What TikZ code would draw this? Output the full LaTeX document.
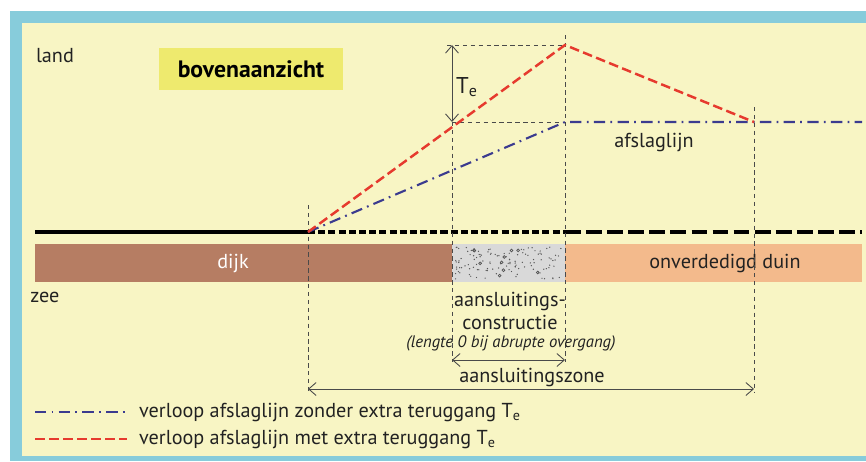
\documentclass[tikz,border=0pt]{standalone}
\usepackage{fontspec}
\setmainfont{PT Sans}
\usetikzlibrary{calc,arrows.meta}

\definecolor{paper}{HTML}{F8F5C4}
\definecolor{frameblue}{HTML}{87CCDB}
\definecolor{hilite}{HTML}{EEEA6E}
\definecolor{dijkbrown}{HTML}{B67D63}
\definecolor{duinorange}{HTML}{F3BA8C}
\definecolor{constrgray}{HTML}{D9D9D9}
\definecolor{dotgray}{HTML}{555555}
\definecolor{guidegray}{HTML}{4A4A4A}
\definecolor{afslagblue}{HTML}{3B3B8F}
\definecolor{afslagred}{HTML}{E63A2E}
\definecolor{inkgray}{HTML}{222222}

\begin{document}
\begin{tikzpicture}[x=0.02cm,y=-0.02cm,font=\fontsize{11.5}{13.5}\selectfont,text=inkgray]
  \useasboundingbox (0,0) rectangle (866,461);
 % frame
  \fill[frameblue] (10,11) rectangle (866,461);
  \fill[paper] (22,23) rectangle (866,456);

  \tikzset{guide/.style={draw=guidegray,line width=0.5pt,dash pattern=on 2.5pt off 2pt},
           dimarrow/.style={{Straight Barb[length=1.5mm,width=2.6mm]}-{Straight Barb[length=1.5mm,width=2.6mm]},
                            draw=guidegray,line width=0.5pt},
           redpath/.style={draw=afslagred,line width=1.4pt,dash pattern=on 5.5pt off 2.5pt},
           bluepath/.style={draw=afslagblue,line width=1.2pt,dash pattern=on 6.5pt off 3pt on 1pt off 3pt},
           coast/.style={draw=black,line width=2.2pt}}

 % key points
  \coordinate (start) at (308,232);
  \coordinate (peak) at (565,45);
  \coordinate (redend) at (754,122);
  \coordinate (knik) at (565,122);
  \coordinate (blueend) at (862,122);
  \coordinate (tetop) at (452,45);
  \coordinate (tebot) at (452,122);

 % texts top left
  \node (land) at (55,56) {land};
  \node[fill=hilite,minimum width=3.68cm,minimum height=0.84cm,
        font=\fontsize{13.5}{15}\selectfont\bfseries,text=black] (title) at (251,69) {bovenaanzicht};

 % band: dijk, constructie, duin
  \fill[dijkbrown] (35,244) rectangle (452,282);
  \fill[constrgray] (452,244) rectangle (565,282);
  \fill[duinorange] (565,244) rectangle (862,282);
  \pgfmathsetseed{11}
  \foreach \i in {1,...,120}
    \fill[dotgray] ({455+107*rnd},{247+32*rnd}) circle (0.7);
  \foreach \i in {1,...,10}
    \draw[dotgray,line width=0.4pt] ({458+100*rnd},{250+26*rnd}) circle (1.4);
  \node[text=white] (dijk) at (233,263) {dijk};
  \node (duin) at (725,263) {onverdedigd duin};
  \node (zee) at (45,297) {zee};

 % coast line
  \draw[coast] (35,232) -- (start);
  \draw[coast,dash pattern=on 4pt off 1.8pt] (start) -- (565,232);
  \draw[coast,dash pattern=on 9pt off 3pt] (565,232) -- (862,232);

 % guide lines
  \draw[guide] (308,205) -- (308,392);
  \draw[guide] (565,35) -- (565,362);
  \draw[guide] (tebot) -- (452,362);
  \draw[guide] (754,107) -- (754,392);
  \draw[guide] (447,45) -- (peak);
  \draw[guide] (tebot) -- (knik);

 % afslaglijn
  \draw[bluepath] (start) -- (knik) -- (blueend);
  \draw[redpath] (start) -- (peak) -- (redend);
  \node (afslag) at (654,142) {afslaglijn};

 % extra teruggang
  \draw[dimarrow] (tetop) -- (tebot);
  \node[font=\fontsize{13}{15}\selectfont] (te) at (467,87) {T\textsubscript{e}};

 % dimensions below
  \node[align=center] (constr) at (510,311) {aansluitings-\\constructie};
  \node[font=\fontsize{9.5}{11}\selectfont\itshape] (lengte) at (511,343) {(lengte 0 bij abrupte overgang)};
  \coordinate (ca) at (452,360);
  \coordinate (cb) at (565,360);
  \draw[dimarrow] (ca) -- (cb);
  \coordinate (za) at (308,389);
  \coordinate (zb) at (754,389);
  \draw[dimarrow] (za) -- (zb);
  \node (zone) at (532,377) {aansluitingszone};

 % legend
  \coordinate (la) at (35,412);
  \coordinate (lb) at (127,412);
  \coordinate (lc) at (35,439);
  \coordinate (ld) at (127,439);
  \draw[bluepath] (la) -- (lb);
  \draw[redpath] (lc) -- (ld);
  \node[anchor=west] (legzonder) at (133,412) {verloop afslaglijn zonder extra teruggang T\textsubscript{e}};
  \node[anchor=west] (legmet) at (133,439) {verloop afslaglijn met extra teruggang T\textsubscript{e}};
\end{tikzpicture}
\end{document}
